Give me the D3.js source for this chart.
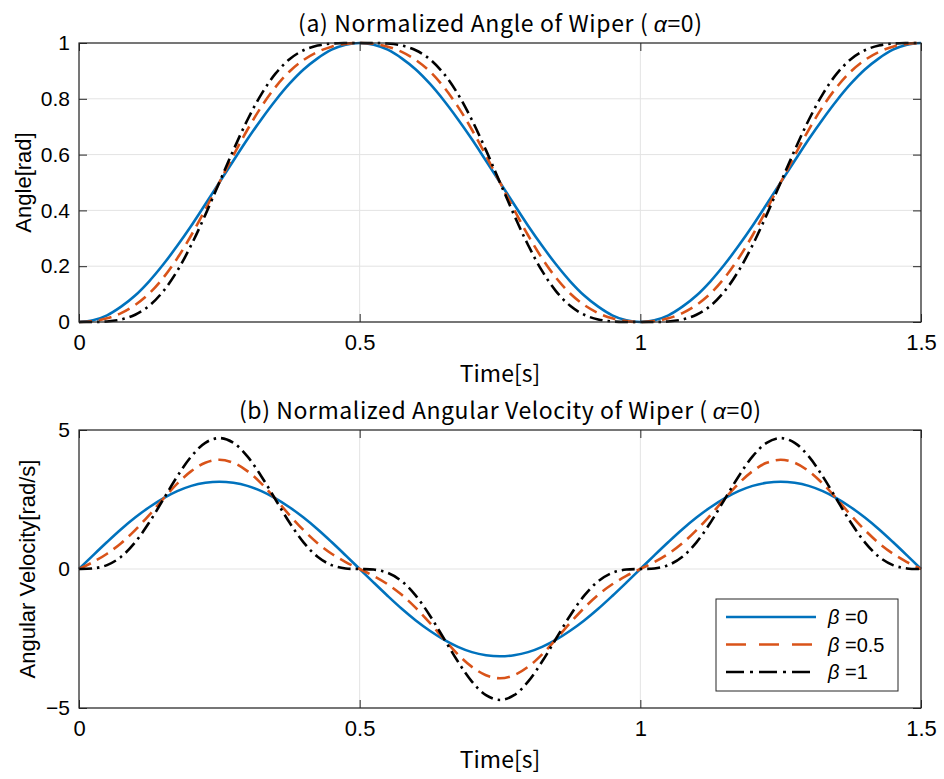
<!DOCTYPE html>
<html>
<head>
<meta charset="utf-8">
<script src="https://cdn.jsdelivr.net/npm/d3@7"></script>
<style>
  body { margin: 0; background: #fff; }
</style>
</head>
<body>
<div id="chart"></div>
<script>
(function(){
  var width = 944;
  var height = 779;

  // sample times (s)
  var time = [0, 0.025, 0.05, 0.075, 0.1, 0.125, 0.15, 0.175, 0.2, 0.225, 0.25,
    0.275, 0.3, 0.325, 0.35, 0.375, 0.4, 0.425, 0.45, 0.475, 0.5,
    0.525, 0.55, 0.575, 0.6, 0.625, 0.65, 0.675, 0.7, 0.725, 0.75,
    0.775, 0.8, 0.825, 0.85, 0.875, 0.9, 0.925, 0.95, 0.975, 1,
    1.025, 1.05, 1.075, 1.1, 1.125, 1.15, 1.175, 1.2, 1.225, 1.25,
    1.275, 1.3, 1.325, 1.35, 1.375, 1.4, 1.425, 1.45, 1.475, 1.5];

  // (a) normalized angle
  var angleB0 = [0, .006, .024, .055, .095, .146, .206, .273, .345, .422, .5, .578, .655, .727, .794, .854, .905, .945, .976, .994, 1,
    .994, .976, .945, .905, .854, .794, .727, .655, .578, .5, .422, .345, .273, .206, .146, .095, .055, .024, .006, 0,
    .006, .024, .055, .095, .146, .206, .273, .345, .422, .5, .578, .655, .727, .794, .854, .905, .945, .976, .994, 1];
  var angleB05 = [0, .003, .013, .032, .061, .102, .158, .228, .311, .403, .5, .597, .689, .772, .842, .898, .939, .968, .987, .997, 1,
    .997, .987, .968, .939, .898, .842, .772, .689, .597, .5, .403, .311, .228, .158, .102, .061, .032, .013, .003, 0,
    .003, .013, .032, .061, .102, .158, .228, .311, .403, .5, .597, .689, .772, .842, .898, .939, .968, .987, .997, 1];
  var angleB1 = [0, 0, .002, .009, .026, .058, .110, .183, .276, .384, .5, .616, .724, .817, .890, .942, .974, .991, .998, 1, 1,
    1, .998, .991, .974, .942, .890, .817, .724, .616, .5, .384, .276, .183, .110, .058, .026, .009, .002, 0, 0,
    0, .002, .009, .026, .058, .110, .183, .276, .384, .5, .616, .724, .817, .890, .942, .974, .991, .998, 1, 1];

  // (b) normalized angular velocity
  var velB0 = [0, .49, .97, 1.43, 1.85, 2.22, 2.54, 2.80, 2.99, 3.10, 3.14, 3.10, 2.99, 2.80, 2.54, 2.22, 1.85, 1.43, .97, .49, 0,
    -.49, -.97, -1.43, -1.85, -2.22, -2.54, -2.80, -2.99, -3.10, -3.14, -3.10, -2.99, -2.80, -2.54, -2.22, -1.85, -1.43, -.97, -.49, 0,
    .49, .97, 1.43, 1.85, 2.22, 2.54, 2.80, 2.99, 3.10, 3.14, 3.10, 2.99, 2.80, 2.54, 2.22, 1.85, 1.43, .97, .49, 0];
  var velB05 = [0, .25, .55, .93, 1.40, 1.94, 2.52, 3.07, 3.52, 3.82, 3.93, 3.82, 3.52, 3.07, 2.52, 1.94, 1.40, .93, .55, .25, 0,
    -.25, -.55, -.93, -1.40, -1.94, -2.52, -3.07, -3.52, -3.82, -3.93, -3.82, -3.52, -3.07, -2.52, -1.94, -1.40, -.93, -.55, -.25, 0,
    .25, .55, .93, 1.40, 1.94, 2.52, 3.07, 3.52, 3.82, 3.93, 3.82, 3.52, 3.07, 2.52, 1.94, 1.40, .93, .55, .25, 0];
  var velB1 = [0, .02, .14, .44, .96, 1.67, 2.50, 3.33, 4.05, 4.54, 4.71, 4.54, 4.05, 3.33, 2.50, 1.67, .96, .44, .14, .02, 0,
    -.02, -.14, -.44, -.96, -1.67, -2.50, -3.33, -4.05, -4.54, -4.71, -4.54, -4.05, -3.33, -2.50, -1.67, -.96, -.44, -.14, -.02, 0,
    .02, .14, .44, .96, 1.67, 2.50, 3.33, 4.05, 4.54, 4.71, 4.54, 4.05, 3.33, 2.50, 1.67, .96, .44, .14, .02, 0];

  var xTicks = [0, 0.5, 1, 1.5];
  var angleTicks = [0, 0.2, 0.4, 0.6, 0.8, 1];
  var velTicks = [-5, 0, 5];
  var legendLabels = ['0', '0.5', '1'];

  var lineStyles = [
    { color: '#0072BD', dash: null, legendDash: null },
    { color: '#D95319', dash: '13,7', legendDash: '20,13' },
    { color: '#000000', dash: '13,5,2.5,5', legendDash: '18,6,3,6' }
  ];

  var jpFont = '"Noto Sans CJK JP", "Noto Sans", sans-serif';
  var latinFont = '"Liberation Sans", Arial, sans-serif';
  var axisColor = '#262626';

  var svg = d3.select('#chart').append('svg')
    .attr('width', width)
    .attr('height', height);

  var left = 79, right = 921;
  var x = d3.scaleLinear().domain([0, 1.5]).range([left, right]);
  var fmt = d3.format('~g');

  function drawPanel(p){
    var y = d3.scaleLinear().domain(p.domain).range([p.bottom, p.top]);
    var g = svg.append('g');

    // grid
    g.selectAll('line.gx').data(xTicks).enter().append('line')
      .attr('x1', function(d){ return x(d); }).attr('x2', function(d){ return x(d); })
      .attr('y1', p.top).attr('y2', p.bottom)
      .attr('stroke', '#e3e3e3').attr('stroke-width', 1);
    g.selectAll('line.gy').data(p.ticks).enter().append('line')
      .attr('y1', function(d){ return y(d); }).attr('y2', function(d){ return y(d); })
      .attr('x1', left).attr('x2', right)
      .attr('stroke', '#e3e3e3').attr('stroke-width', 1);

    // axes, ticks pointing inward
    var axB = g.append('g').attr('transform', 'translate(0,' + p.bottom + ')')
      .call(d3.axisBottom(x).tickValues(xTicks).tickSize(-8).tickPadding(12).tickFormat(fmt));
    var axT = g.append('g').attr('transform', 'translate(0,' + p.top + ')')
      .call(d3.axisTop(x).tickValues(xTicks).tickSize(-8).tickFormat(''));
    var axL = g.append('g').attr('transform', 'translate(' + left + ',0)')
      .call(d3.axisLeft(y).tickValues(p.ticks).tickSize(-8).tickPadding(9).tickFormat(fmt));
    var axR = g.append('g').attr('transform', 'translate(' + right + ',0)')
      .call(d3.axisRight(y).tickValues(p.ticks).tickSize(-8).tickFormat(''));
    [axB, axT, axL, axR].forEach(function(a){
      a.select('.domain').remove();
      a.selectAll('line').attr('stroke', axisColor);
      a.selectAll('text').attr('fill', '#000').attr('font-size', '21px').attr('font-family', latinFont);
    });
    axB.selectAll('text').attr('font-size', '22px');

    // series
    var line = d3.line()
      .x(function(d){ return x(d[0]); })
      .y(function(d){ return y(d[1]); })
      .curve(d3.curveCatmullRom.alpha(0.5));
    p.series.forEach(function(vals, i){
      g.append('path')
        .datum(time.map(function(t, j){ return [t, vals[j]]; }))
        .attr('d', line)
        .attr('fill', 'none')
        .attr('stroke', lineStyles[i].color)
        .attr('stroke-width', 2.6)
        .attr('stroke-dasharray', lineStyles[i].dash);
    });

    // box
    g.append('rect')
      .attr('x', left).attr('y', p.top)
      .attr('width', right - left).attr('height', p.bottom - p.top)
      .attr('fill', 'none').attr('stroke', axisColor).attr('stroke-width', 1.2);

    // title
    var title = g.append('text')
      .attr('x', (left + right) / 2).attr('y', p.top - 11)
      .attr('text-anchor', 'middle')
      .attr('font-family', jpFont).attr('font-size', '23px').attr('fill', '#000')
      .attr('textLength', p.titleLen).attr('lengthAdjust', 'spacing');
    title.append('tspan').text(p.title + '(\u2009');
    title.append('tspan').attr('font-style', 'italic').attr('font-family', latinFont).text('\u03b1');
    title.append('tspan').text('=0)');

    // x label
    g.append('text')
      .attr('x', (left + right) / 2).attr('y', p.bottom + 60)
      .attr('text-anchor', 'middle')
      .attr('font-family', jpFont).attr('font-size', '23px').attr('fill', '#000')
      .text('Time[s]');

    // y label
    g.append('text')
      .attr('transform', 'translate(' + p.ylabelX + ',' + (p.top + p.bottom) / 2 + ') rotate(-90)')
      .attr('text-anchor', 'middle')
      .attr('font-family', latinFont).attr('font-size', '22px').attr('fill', '#000')
      .text(p.ylabel);
    return y;
  }

  drawPanel({
    top: 43, bottom: 322, domain: [0, 1], ticks: angleTicks,
    series: [angleB0, angleB05, angleB1],
    title: '(a) Normalized Angle of Wiper ', titleLen: 404,
    ylabel: 'Angle[rad]', ylabelX: 31
  });
  drawPanel({
    top: 430, bottom: 708, domain: [-5, 5], ticks: velTicks,
    series: [velB0, velB05, velB1],
    title: '(b) Normalized Angular Velocity of Wiper ', titleLen: 522,
    ylabel: 'Angular Velocity[rad/s]', ylabelX: 35
  });

  // legend
  var lg = svg.append('g').attr('transform', 'translate(716,599)');
  lg.append('rect').attr('width', 182).attr('height', 92)
    .attr('fill', '#fff').attr('stroke', axisColor).attr('stroke-width', 1);
  legendLabels.forEach(function(lab, i){
    var yy = 18 + i * 27.5;
    lg.append('line')
      .attr('x1', 10).attr('x2', 100).attr('y1', yy).attr('y2', yy)
      .attr('stroke', lineStyles[i].color).attr('stroke-width', 2.6)
      .attr('stroke-dasharray', lineStyles[i].legendDash);
    var t = lg.append('text').attr('x', 112).attr('y', yy + 7)
      .attr('font-family', latinFont).attr('font-size', '20px').attr('fill', '#000');
    t.append('tspan').attr('font-style', 'italic').text('\u03b2');
    t.append('tspan').text(' =' + lab);
  });
})();
</script>
</body>
</html>
